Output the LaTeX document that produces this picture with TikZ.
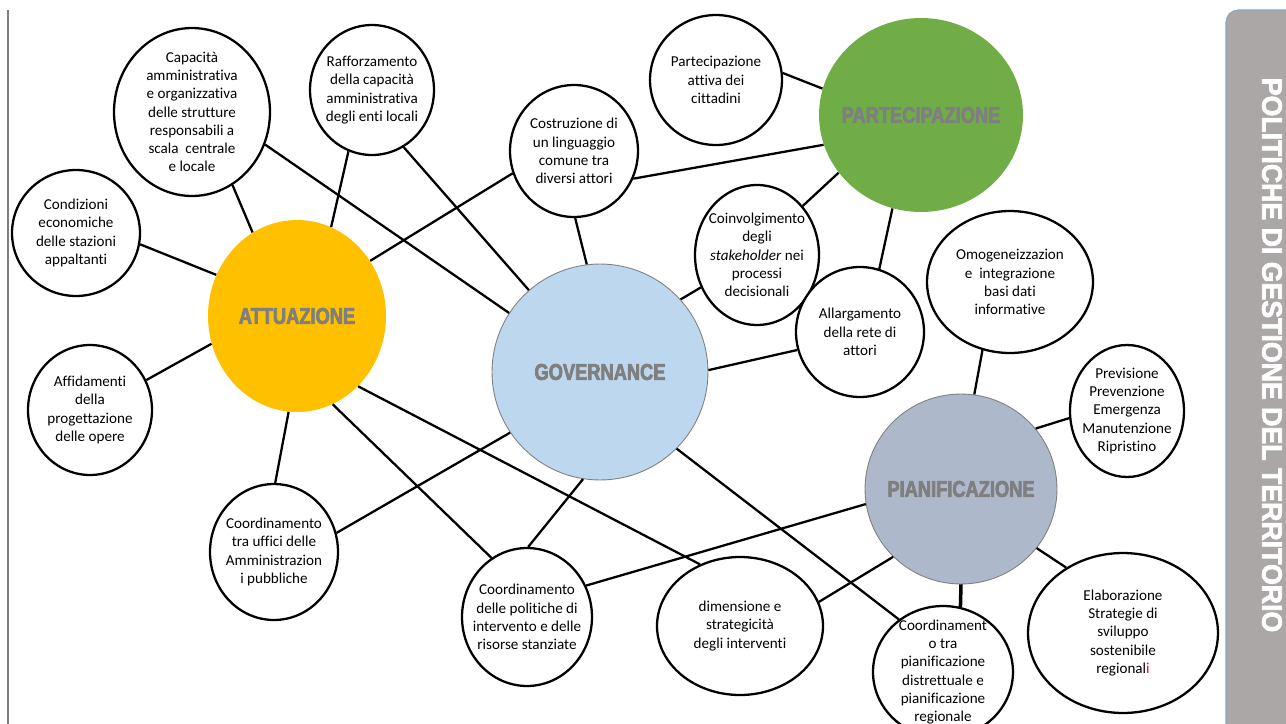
\documentclass[tikz,border=0pt]{standalone}
\usepackage{fontspec}
\setmainfont{Carlito}[Ligatures=CommonOff]
\newfontfamily\titolofont{Liberation Sans Bold}[FakeStretch=0.8]
\newfontfamily\barrafont{Liberation Sans Bold}[FakeStretch=0.95]
\newcommand\marcato[2]{\special{pdf:literal direct 2 Tr 0.4 w #1 G}#2\special{pdf:literal direct 0 Tr}}
\usetikzlibrary{shapes.geometric}
\definecolor{giallo}{HTML}{FFC000}
\definecolor{verde}{HTML}{70AD47}
\definecolor{azzurro}{HTML}{BDD7EE}
\definecolor{grigioblu}{HTML}{ADB9CA}
\definecolor{grigiotesto}{HTML}{7F7F7F}
\definecolor{grigiobarra}{HTML}{AAA7A6}
\definecolor{bordobarra}{HTML}{8EA6BE}

\begin{document}
\begin{tikzpicture}[x=0.02cm, y=-0.02cm,
  bolla/.style 2 args={ellipse, draw, line width=1.3pt, fill=white, inner sep=-25pt,
    minimum width=#1*0.4mm, minimum height=#2*0.4mm, align=center,
    font=\fontsize{8.6}{10.4}\selectfont},
  tema/.style 2 args={ellipse, inner sep=-25pt, minimum width=#1*0.4mm, minimum height=#2*0.4mm,
    text=grigiotesto, font=\titolofont\fontsize{13}{15}\selectfont},
  legame/.style={line width=1.3pt}]
  \clip (0,0) rectangle (1286,724);
  \fill[white] (0,0) rectangle (1286,724);

  % Cornice
  \draw[grigiotesto, line width=0.8pt] (8,10) -- (8,724);
  \draw[draw=bordobarra, fill=grigiobarra, line width=0.6pt, rounded corners=7pt] (1226,10) rectangle (1300,740);
  \node[rotate=-90, text=white, font=\barrafont\fontsize{16}{18}\selectfont] (titolo) at (1272,355) {\marcato{1}{POLITICHE DI GESTIONE DEL TERRITORIO}};

  % Temi principali
  \node[tema={89}{96}, fill=giallo] (attuazione) at (297,316) {\marcato{0.498}{ATTUAZIONE}};
  \node[tema={108}{108}, fill=azzurro, draw=gray, line width=0.5pt] (governance) at (600,372) {\marcato{0.498}{GOVERNANCE}};
  \node[tema={102}{97}, fill=verde] (partecipazione) at (921,115) {\marcato{0.498}{PARTECIPAZIONE}};
  \node[tema={96}{95}, fill=grigioblu, draw=gray, line width=0.5pt] (pianificazione) at (961,489) {\marcato{0.498}{PIANIFICAZIONE}};

  % Bolle
  \node[bolla={78}{84}] (capacita) at (192,112) {Capacità\\amministrativa\\e organizzativa\\delle strutture\\responsabili a\\scala\ \ centrale\\e locale};
  \node[bolla={62}{65}] (rafforzamento) at (372,90) {Rafforzamento\\della capacità\\amministrativa\\degli enti locali};
  \node[bolla={64}{63}] (condizioni) at (76,233) {Condizioni\\economiche\\delle stazioni\\appaltanti};
  \node[bolla={62}{65}] (affidamenti) at (90,410) {Affidamenti\\della\\progettazione\\delle opere};
  \node[bolla={64}{68}] (uffici) at (274,552) {Coordinamento\\tra uffici delle\\Amministrazion\\i pubbliche};
  \node[bolla={64}{66}] (linguaggio) at (574,151) {Costruzione di\\un linguaggio\\comune tra\\diversi attori};
  \node[bolla={65}{69}] (politiche) at (527,617) {Coordinamento\\delle politiche di\\intervento e delle\\risorse stanziate};
  \node[bolla={83}{69}] (dimensione) at (740,626) {dimensione e\\strategicità\\degli interventi};
  \node[bolla={66}{65}] (attiva) at (716,80) {Partecipazione\\attiva dei\\cittadini};
  \node[bolla={62}{70}] (coinvolgimento) at (757,255) {Coinvolgimento\\degli\\\textit{stakeholder} nei\\processi\\decisionali};
  \node[bolla={64}{65}] (allargamento) at (860,332) {Allargamento\\della rete di\\attori};
  \node[bolla={83}{71}] (omogeneizzazione) at (1010,282) {Omogeneizzazion\\e\ \ integrazione\\basi dati\\informative};
  \node[bolla={57}{66}] (previsione) at (1127,411) {Previsione\\Prevenzione\\Emergenza\\Manutenzione\\Ripristino};
  \node[bolla={70}{66}] (distrettuale) at (943,672) {Coordinament\\o tra\\pianificazione\\distrettuale e\\pianificazione\\regionale};
  \node[bolla={95}{80}] (strategie) at (1123,633) {Elaborazione\\Strategie di\\sviluppo\\sostenibile\\regional{\color{red}i}};

  % Collegamenti
  \draw[legame] (capacita.-24) -- (governance.147);
  \draw[legame] (capacita.-61) -- (attuazione.118);
  \draw[legame] (rafforzamento.-111) -- (attuazione.69);
  \draw[legame] (rafforzamento.-61) -- (governance.131);
  \draw[legame] (condizioni.-10) -- (attuazione.153);
  \draw[legame] (affidamenti.28) -- (attuazione.198);
  \draw[legame] (uffici.89) -- (attuazione.-95);
  \draw[legame] (uffici.17) -- (governance.214);
  \draw[legame] (attuazione.37) -- (linguaggio.200);
  \draw[legame] (attuazione.-68) -- (politiche.121);
  \draw[legame] (attuazione.-49) -- (dimensione.123);
  \draw[legame] (linguaggio.-89) -- (governance.97);
  \draw[legame] (linguaggio.-25) -- (partecipazione.197);
  \draw[legame] (attiva.6) -- (partecipazione.165);
  \draw[legame] (coinvolgimento.47) -- (partecipazione.215);
  \draw[legame] (coinvolgimento.210) -- (governance.42);
  \draw[legame] (allargamento.73) -- (partecipazione.253);
  \draw[legame] (allargamento.196) -- (governance.1);
  \draw[legame] (governance.-99) -- (politiche.89);
  \draw[legame] (governance.-45) -- (distrettuale.130);
  \draw[legame] (politiche.28) -- (pianificazione.189);
  \draw[legame] (dimensione.17) -- (pianificazione.225);
  \draw[legame] (omogeneizzazione.-112) -- (pianificazione.82);
  \draw[legame] (previsione.187) -- (pianificazione.39);
  \draw[legame] (pianificazione.-38) -- (strategie.131);
  \draw[line width=2pt] (pianificazione.-90) -- (distrettuale.75);

\end{tikzpicture}
\end{document}
